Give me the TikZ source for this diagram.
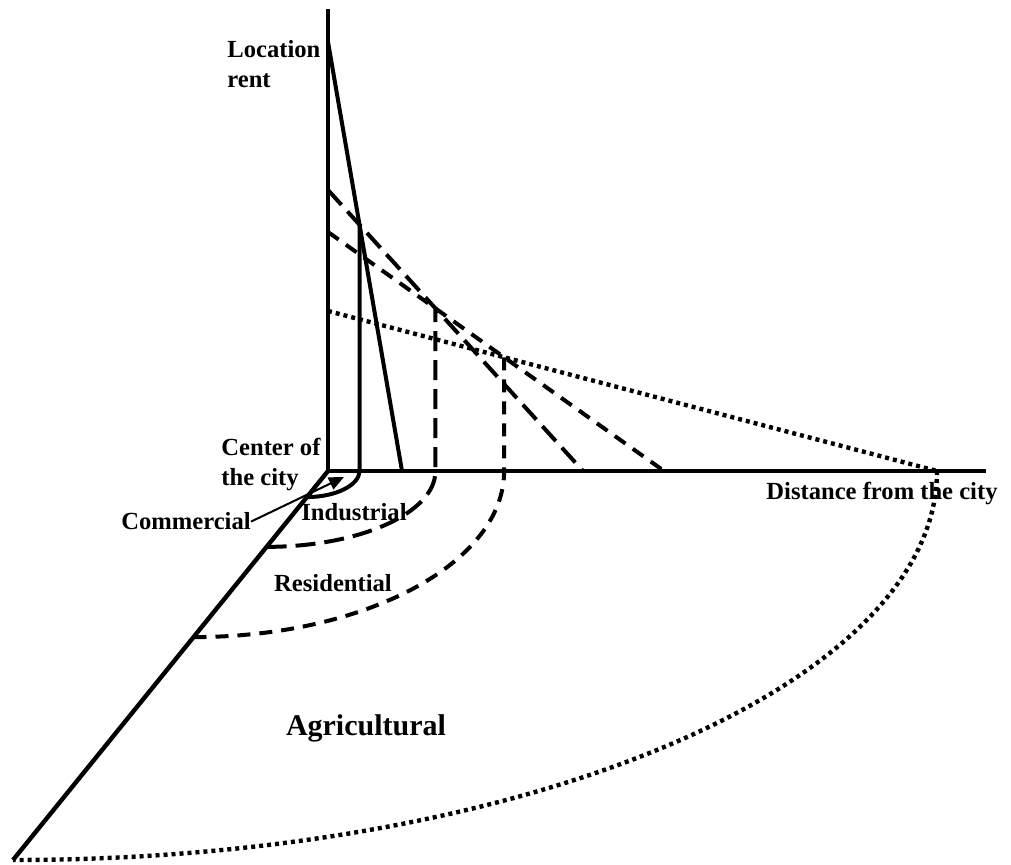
\documentclass[tikz,border=0pt]{standalone}
\usepackage{fontspec}
\setmainfont{Liberation Serif}
\usetikzlibrary{arrows.meta,calc}

\tikzset{
  axis/.style={line width=2.2pt},
  rent/.style={line width=2pt},
  longdash/.style={rent, dash pattern=on 10pt off 4.5pt},
  middash/.style={rent, dash pattern=on 6.5pt off 4.5pt},
  dots/.style={line width=2.2pt, dash pattern=on 2pt off 2pt},
  lbl/.style={font=\bfseries\fontsize{12.3}{15}\selectfont, inner sep=0pt},
}

\begin{document}
\begin{tikzpicture}[x=0.5pt, y=-0.5pt]
  \useasboundingbox (0,0) rectangle (1011,865);

  % axes
  \coordinate (o) at (328,471);
  \coordinate (ytop) at (328,9);
  \coordinate (xend) at (986,471);
  \coordinate (dend) at (13,860);
  \draw[axis] (ytop) -- (o) -- (xend);
  \draw[axis] (o) -- (dend);

  % bid rent lines
  \coordinate (c0) at (328,42);
  \coordinate (c1) at (402,471);
  \coordinate (i0) at (328,190);
  \coordinate (i1) at (583,471);
  \coordinate (r0) at (328,232);
  \coordinate (r1) at (664,471);
  \coordinate (a0) at (328,311);
  \coordinate (a1) at (937,471);
  \draw[rent] (c0) -- (c1);
  \draw[longdash] (i0) -- (i1);
  \draw[middash] (r0) -- (r1);
  \draw[dots] (a0) -- (a1);

  \coordinate (ci) at (intersection of c0--c1 and i0--i1);
  \coordinate (ir) at (intersection of i0--i1 and r0--r1);
  \coordinate (ra) at (intersection of r0--r1 and a0--a1);

  % zone rings on the ground
  \draw[rent] (ci) -- (ci |- o)
    .. controls +(0,14) and +(29,0) .. ($(o)!0.067!(dend)$);
  \draw[longdash] ($(o)!0.195!(dend)$)
    .. controls +(93,0) and +(0,42) .. (ir |- o) -- (ir);
  \draw[middash] ($(o)!0.427!(dend)$)
    .. controls +(172,0) and +(0,92) .. (ra |- o) -- (ra);
  \draw[dots] (a1) .. controls +(0,215) and +(510,0) .. (dend);

  % labels
  \node[lbl, anchor=north west, align=left] (rentlbl) at (227,40) {Location\\rent};
  \node[lbl, anchor=north west, align=left] (center) at (221,438) {Center of\\the city};
  \node[lbl, anchor=base] (dist) at (882,500) {Distance from the city};
  \node[lbl, anchor=base] (com) at (186,530) {Commercial};
  \node[lbl, anchor=base] (ind) at (354,520) {Industrial};
  \node[lbl, anchor=base] (res) at (333,591) {Residential};
  \node[lbl, anchor=base, font=\bfseries\fontsize{15}{18}\selectfont] (agr) at (366,735) {Agricultural};

  \coordinate (ctip) at (344,477);
  \draw[line width=1pt, -{Triangle[length=7.5pt,width=6.5pt]}] (com.east) -- (ctip);
\end{tikzpicture}
\end{document}
